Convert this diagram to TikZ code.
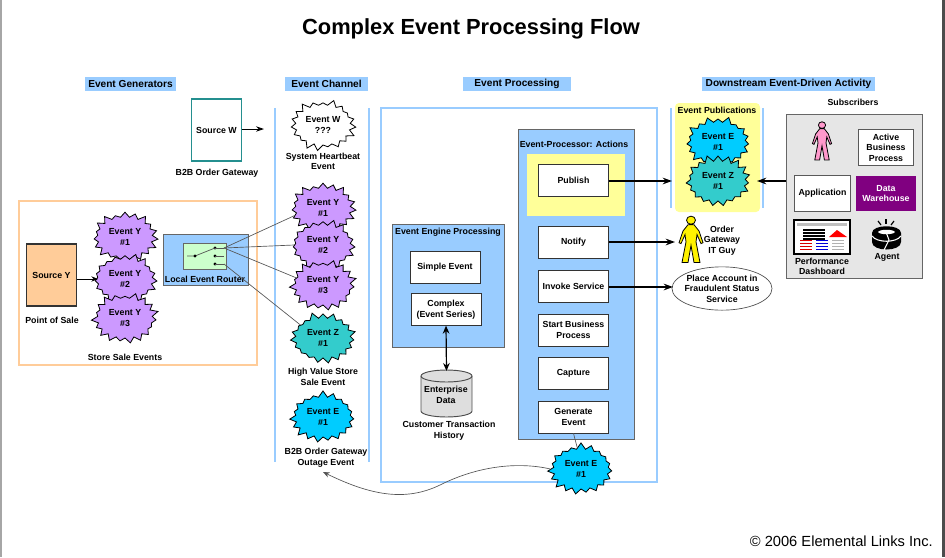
\documentclass[tikz,border=0pt]{standalone}
\usepackage{fontspec}
\setmainfont{Liberation Sans}
\usetikzlibrary{
    arrows.meta,
    shapes.geometric,
    shapes.symbols,
    positioning
}
\definecolor{barblue}{HTML}{99CCFF}
\definecolor{evpurple}{HTML}{CC99FF}
\definecolor{evteal}{HTML}{33CCCC}
\definecolor{evcyan}{HTML}{00CCFF}
\definecolor{peach}{HTML}{FFCC99}
\definecolor{paleyellow}{HTML}{FFFF99}
\definecolor{palegreen}{HTML}{CCFFCC}
\definecolor{whpurple}{HTML}{800080}
\definecolor{panelgray}{HTML}{E6E6E6}
\definecolor{linegray}{HTML}{555555}
\definecolor{pinkfill}{HTML}{FF99CC}

\begin{document}
\begin{tikzpicture}[
    x=0.75pt, y=-0.75pt,
    lbl/.style         = {font=\fontsize{6.6}{7.9}\selectfont\bfseries, align=center, inner sep=0pt},
    header/.style      = {lbl, font=\fontsize{7.6}{9}\selectfont\bfseries, fill=barblue, minimum height=10.5pt},
    burst/.style       = {starburst, starburst points=19, starburst point height=5pt,
                          draw=black, line width=0.6pt, inner sep=0pt, minimum width=51pt, minimum height=40pt,
                          lbl},
    actionbox/.style   = {lbl, draw=black!80, fill=white, line width=0.7pt, minimum width=53pt, minimum height=24pt},
    plainbox/.style    = {lbl, draw=black!65, fill=white, line width=0.7pt},
    flowline/.style    = {-{Stealth[length=7pt,width=5pt]}, line width=1.1pt},
    thinline/.style    = {draw=linegray, line width=0.5pt},
    barline/.style     = {barblue, line width=2.2pt},
    person/.pic        = {
        \draw[line width=0.6pt, fill=\pgfkeysvalueof{/tikz/personfill}]
            (0,-12) circle (4.5)
            (-3,-7) -- (3,-7) -- (8,0) -- (12,13) -- (10,14) -- (6,4) -- (5,12) -- (9,35) -- (3,35)
            -- (0,16) -- (-3,35) -- (-9,35) -- (-5,12) -- (-6,4) -- (-10,14) -- (-12,13) -- (-8,0) -- cycle;
    },
    personfill/.initial = yellow,
]
    %Frame strips
    \useasboundingbox (0,0) rectangle (945,557);
    \fill[black!35] (0,0) rectangle (1.5,557);
    \fill[black!70] (942,0) rectangle (945,557);

    %Title and headers
    \node[font=\fontsize{16.4}{18}\selectfont\bfseries] (title) at (471,29) {Complex Event Processing Flow};
    \node[header, minimum width=68pt] (hgen)  at (130.5,84) {Event Generators};
    \node[header, minimum width=62pt] (hchan) at (326.5,84) {Event Channel};
    \node[header, minimum width=81pt] (hproc) at (517,84) {Event Processing};
    \node[header, minimum width=130pt] (hdown) at (788.5,84) {Downstream Event-Driven Activity};

    %Backgrounds
    \draw[peach, line width=2pt] (19,201) rectangle (257,365);
    \draw[barline] (275,108) -- (275,462);
    \draw[barline] (369,108) -- (369,462);
    \draw[barline] (381,108) rectangle (657,482);
    \draw[barline] (671,108) -- (671,208);
    \draw[barline] (763,108) -- (763,208);
    \fill[paleyellow, rounded corners=3pt] (675,103) rectangle (760,212);
    \node[lbl] (pubtitle) at (717,110) {Event Publications};

    %Source and router
    \node[lbl, draw=evteal!70!black, fill=white, line width=0.9pt, minimum width=38pt, minimum height=46.5pt] (sourcew) at (216.5,130) {Source W};
    \node[lbl] (sourcewlbl) at (217,173) {B2B Order Gateway};
    \coordinate (sourcewend) at (264,129);
    \draw[-{Stealth[length=6pt,width=4pt]}, line width=0.7pt] (sourcew.east |- sourcewend) -- (sourcewend);

    \node[lbl, draw=black!80, fill=peach, line width=0.8pt, minimum width=38pt, minimum height=46.5pt] (sourcey) at (51.5,275) {Source Y};
    \node[lbl] (poslbl) at (52,320) {Point of Sale};
    \node[lbl] (storelbl) at (125,357) {Store Sale Events};

    \node[draw=black!60, fill=barblue, line width=0.5pt, minimum width=63.5pt, minimum height=38pt, inner sep=0pt] (router) at (205.5,259.5) {};
    \node[draw=black!60, fill=palegreen, line width=0.5pt, minimum width=32pt, minimum height=19.5pt, inner sep=0pt] (switch) at (204.5,256) {};
    \node[lbl] (routerlbl) at (205,279) {Local Event Router};
    \foreach \name/\yy in {swa/248, swb/256, swc/264} {
        \fill (215,\yy) circle (1.6);
        \coordinate (\name) at (224,\yy);
        \draw[thinline] (215,\yy) -- (\name);
    }
    \coordinate (swin) at (187,256);
    \draw[thinline] (swin) -- (195,256) -- (215,248);
    \fill (195,256) circle (1.6);

    %Events left
    \node[burst, fill=evpurple, random starburst=21] (yla) at (125,237) {Event Y\\\#1};
    \node[burst, fill=evpurple, random starburst=22] (ylb) at (125,279) {Event Y\\\#2};
    \node[burst, fill=evpurple, random starburst=23] (ylc) at (125,318) {Event Y\\\#3};
    \coordinate (yltip) at (98,279);
    \draw[-{Stealth[length=5pt,width=4pt]}, line width=0.7pt] (sourcey.east |- yltip) -- (yltip);

    %Events channel
    \node[burst, fill=white, random starburst=3] (evw) at (323,125) {Event W\\???};
    \node[lbl] (evwlbl) at (323,161.5) {System Heartbeat\\Event};
    \node[burst, fill=evpurple, random starburst=21] (yca) at (323,208) {Event Y\\\#1};
    \node[burst, fill=evpurple, random starburst=22] (ycb) at (323,245) {Event Y\\\#2};
    \node[burst, fill=evpurple, random starburst=23] (ycc) at (323,285) {Event Y\\\#3};
    \node[burst, fill=evteal, random starburst=5] (zc) at (323,338) {Event Z\\\#1};
    \node[lbl] (zclbl) at (323,377) {High Value Store\\Sale Event};
    \node[burst, fill=evcyan, random starburst=7] (ec) at (323,417) {Event E\\\#1};
    \node[lbl] (eclbl) at (326,457.5) {B2B Order Gateway\\Outage Event};

    %Router lines
    \draw[thinline] (swa) -- (yca.195);
    \draw[thinline] (swa) -- (ycb.west);
    \draw[thinline] (swa) -- (ycc.165);
    \draw[thinline] (swc) -- (zc.150);

    %Engine
    \node[draw=black!60, fill=barblue, line width=0.5pt, minimum width=84pt, minimum height=92pt, inner sep=0pt] (engine) at (448,285.5) {};
    \node[lbl] (enginelbl) at (448,232) {Event Engine Processing};
    \node[plainbox, draw=black!80, minimum width=52.5pt, minimum height=24pt] (simple) at (445,267) {Simple Event};
    \node[plainbox, draw=black!80, minimum width=52.5pt, minimum height=23.5pt] (complex) at (446,309.5) {Complex\\(Event Series)};
    \draw[draw=black!70, fill=black!13, line width=0.7pt] (421,376) arc[start angle=180, end angle=0, x radius=25.5, y radius=-6]
        -- (472,411) arc[start angle=0, end angle=-180, x radius=25.5, y radius=-6] -- cycle;
    \draw[draw=black!70, line width=0.7pt] (421,376) arc[start angle=180, end angle=360, x radius=25.5, y radius=-6];
    \coordinate (entdatatop) at (446.5,371);
    \node[lbl] (entdatalbl) at (446,395) {Enterprise\\Data};
    \node[lbl] (entlbl) at (449,430.5) {Customer Transaction\\History};
    \draw[{Stealth[length=6pt,width=5pt]}-{Stealth[length=6pt,width=5pt]}, line width=0.9pt] (complex.south) -- (entdatatop);

    %Actions
    \node[draw=black!60, fill=barblue, line width=0.5pt, minimum width=87pt, minimum height=232.5pt, inner sep=0pt] (actions) at (576,284) {};
    \node[lbl] (actionslbl) at (574,144) {Event-Processor: Actions};
    \fill[paleyellow] (527,154) rectangle (625,216);
    \node[actionbox] (publish) at (573.5,180.5) {Publish};
    \node[actionbox] (notify)  at (573.5,242) {Notify};
    \node[actionbox] (invoke)  at (573.5,286) {Invoke Service};
    \node[actionbox] (startbp) at (573.5,330) {Start Business\\Process};
    \node[actionbox] (capture) at (573.5,373.5) {Capture};
    \node[actionbox] (generate) at (573.5,417) {Generate\\Event};
    \node[burst, fill=evcyan, random starburst=7] (ep) at (581,469) {Event E\\\#1};
    \draw[thinline] (generate.south) -- (ep.100);
    \coordinate (ectip) at (323,472);
    \draw[-{Stealth[length=5pt,width=4pt]}, thinline, fill=none] (ep.west) .. controls (520,462) and (480,465) .. (440,485) .. controls (405,502) and (370,495) .. (ectip);

    %Publications
    \node[burst, fill=evcyan, random starburst=9] (epa) at (718,142) {Event E\\\#1};
    \node[burst, fill=evteal, random starburst=11] (zpa) at (718,181) {Event Z\\\#1};

    %Downstream
    \pic[xscale=1, yscale=0.9] at (691,231) {person};
    \coordinate (guyend) at (675,240);
    \node[lbl] (guylbl) at (722,240.5) {Order\\Gateway\\IT Guy};
    \node[ellipse, draw=black!70, fill=white, line width=0.5pt, minimum width=75pt, minimum height=32.5pt, inner sep=0pt] (fraud) at (722,288.5) {};
    \node[lbl] (fraudlbl) at (722,288.5) {Place Account in\\Fraudulent Status\\Service};
    \node[lbl] (sublbl) at (853,102) {Subscribers};
    \node[draw=black!60, fill=panelgray, line width=0.7pt, minimum width=102.5pt, minimum height=123.5pt, inner sep=0pt] (subs) at (854.5,196.5) {};
    \node[plainbox, minimum width=41.5pt, minimum height=27.5pt] (activebp) at (886,147.5) {Active\\Business\\Process};
    \node[plainbox, minimum width=42pt, minimum height=27.5pt] (appbox) at (822.5,193.5) {Application};
    \node[lbl, fill=whpurple, text=white, minimum width=45pt, minimum height=26pt] (dwbox) at (886,193.5) {Data\\Warehouse};
    \begin{scope}[personfill/.initial=pinkfill]
        \pic[xscale=0.8, yscale=0.74] at (822,134) {person};
    \end{scope}

    %Dashboard icon
    \node[draw=black, fill=white, line width=1.2pt, minimum width=42pt, minimum height=25.5pt, inner sep=0pt] (dash) at (822,237) {};
    \fill[black!25] (797,223) rectangle (847,226);
    \foreach \yy in {229,232,235,238} { \fill (803,\yy) rectangle (825,\yy+1.5); }
    \fill[red] (829,237) -- (837,230) -- (847,237) -- cycle;
    \foreach \yy in {240,243,246,249} {
        \fill[red!85!black] (800,\yy) rectangle (812,\yy+1.3);
        \fill[blue!85!black] (816,\yy) rectangle (828,\yy+1.3);
        \fill[black!30] (832,\yy) rectangle (844,\yy+1.3);
    }
    \node[lbl] (dashlbl) at (822,266.5) {Performance\\Dashboard};

    %Agent icon
    \fill (872,233) .. controls (872,224) and (901,224) .. (901,233) -- (901,242)
        .. controls (901,252) and (872,252) .. (872,242) -- cycle;
    \draw[white, line width=0.8pt] (872,236) .. controls (877,243) and (896,243) .. (901,236);
    \fill[white] (878,232) .. controls (880,229) and (893,229) .. (895,232)
        .. controls (893,235) and (880,235) .. (878,232) -- cycle;
    \draw[white, line width=0.8pt] (886,232) -- (889,240) -- (884,250);
    \foreach \xa/\ya/\xb/\yb in {886/219/886/224, 878/221/881/225, 894/221/891/225} {
        \draw[line width=0.9pt] (\xa,\ya) -- (\xb,\yb);
    }
    \node[lbl] (agentlbl) at (887,257) {Agent};

    %Arrows
    \coordinate (pubend) at (672,181);
    \coordinate (subend) at (757,181);
    \coordinate (fraudend) at (673,287);
    \draw[flowline] (publish.east |- pubend) -- (pubend);
    \draw[flowline] (subs.west |- subend) -- (subend);
    \draw[flowline] (notify.east) -- (notify.east -| guyend);
    \draw[flowline] (invoke.east |- fraudend) -- (fraudend);

    %Copyright
    \node[font=\fontsize{11}{13}\selectfont, anchor=east, inner sep=0pt] (copyr) at (933,541) {© 2006 Elemental Links Inc.};
\end{tikzpicture}
\end{document}
